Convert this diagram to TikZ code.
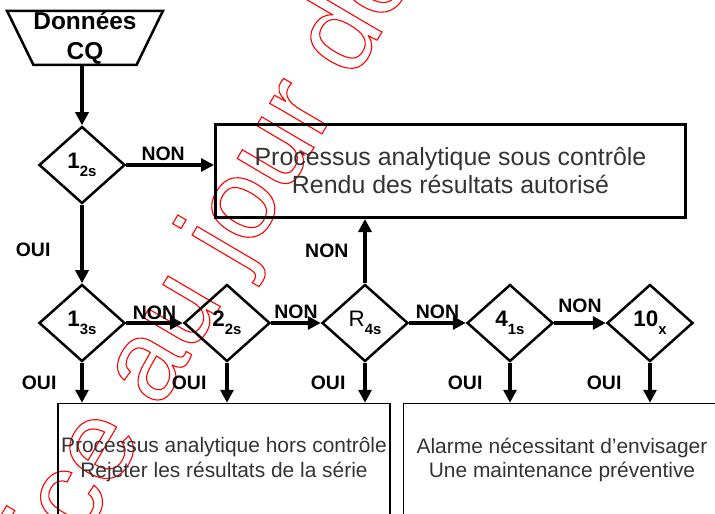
\documentclass[tikz,border=0pt]{standalone}
\usepackage{fontspec}
\setmainfont{Liberation Sans}
\usetikzlibrary{arrows.meta, positioning, shapes.geometric}
\tikzset{
  source/.style={trapezium,draw,line width=2.5bp,shape border rotate=180,trapezium left angle=63.4,trapezium right angle=63.4,trapezium stretches=true,minimum width=142bp,minimum height=54bp,align=center,inner sep=0pt,font=\bfseries\fontsize{24.5}{30}\selectfont},
  test/.style={diamond,draw,line width=2.5bp,aspect=1,inner sep=0pt,minimum width=86bp,minimum height=77bp,font=\bfseries\fontsize{22.5}{24}\selectfont},
  result/.style={rectangle,draw,line width=3bp,align=center,text=black!80,font=\fontsize{25}{28}\selectfont},
  action/.style={rectangle,draw,line width=1.5bp,align=center,text=black!80,font=\fontsize{21}{25}\selectfont},
  answer/.style={inner sep=0pt,font=\bfseries\fontsize{19.5}{20}\selectfont},
  watermark/.style={inner sep=0pt,text=red,font=\fontsize{115}{115}\selectfont},
  line/.style={-{Triangle[length=13bp,width=13bp]},line width=3.2bp}
}
\newcommand{\rul}[2]{#1\raisebox{-8bp}{\fontsize{15}{15}\selectfont #2}}
\newcommand{\outl}[1]{\special{pdf:literal direct 1 Tr 1.1 w}#1\special{pdf:literal direct 0 Tr}}

\begin{document}
\begin{tikzpicture}[x=1bp,y=-1bp]
\useasboundingbox (0,0) rectangle (715,514);
\clip (0,0) rectangle (715,514);
% filigrane
\node[watermark, rotate=59.5, anchor=base west] (wm) at (111,492) {\outl{\llap{Notic}e au jour de}};
% noeuds
\node[source] (cq) at (85,38) {Données\\CQ};
\node[test] (d12) at (82,165) {\rul{1}{2s}};
\node[test] (d13) at (82,323) {\rul{1}{3s}};
\node[test] (d22) at (227,323) {\rul{2}{2s}};
\node[test] (dR4) at (365,323) {\rul{{\mdseries R}}{4s}};
\node[test] (d41) at (510,323) {\rul{4}{1s}};
\node[test] (d10) at (650,323) {\rul{10}{x}};
\node[result, minimum width=470bp, minimum height=93bp] (ok) at (450.5,171) {Processus analytique sous contrôle\\Rendu des résultats autorisé};
\node[action, minimum width=331bp, minimum height=113bp] (hors) at (224,460) {Processus analytique hors contrôle\\Rejeter les résultats de la série};
\node[action, minimum width=317bp, minimum height=113bp] (alarm) at (562,460) {Alarme nécessitant d’envisager\\Une maintenance préventive};
% liaisons
\draw[line] (d12 |- cq.south) -- (d12);
\draw[line] (d12.east) -- (d12.east -| ok.west) node[answer, midway, above=2.5bp, xshift=-7bp] {NON};
\draw[line] (d12) -- (d13) node[answer, midway, left=30bp, yshift=-6bp] {OUI};
\draw[line] (d13) -- (d22) node[answer, midway, above=2bp] {NON};
\draw[line] (d22) -- (dR4) node[answer, midway, above=3bp] {NON};
\draw[line] (dR4) -- (d41) node[answer, midway, above=3bp] {NON};
\draw[line] (d41) -- (d10) node[answer, midway, above=9bp] {NON};
\draw[line] (dR4) -- (dR4 |- ok.south) node[answer, midway, left=15bp] {NON};
\draw[line] (d13) -- (d13 |- hors.north) node[answer, midway, left=24bp] {OUI};
\draw[line] (d22) -- (d22 |- hors.north) node[answer, midway, left=19bp] {OUI};
\draw[line] (dR4) -- (dR4 |- hors.north) node[answer, midway, left=18bp] {OUI};
\draw[line] (d41) -- (d41 |- alarm.north) node[answer, midway, left=26bp] {OUI};
\draw[line] (d10) -- (d10 |- alarm.north) node[answer, midway, left=27bp] {OUI};
\end{tikzpicture}
\end{document}
